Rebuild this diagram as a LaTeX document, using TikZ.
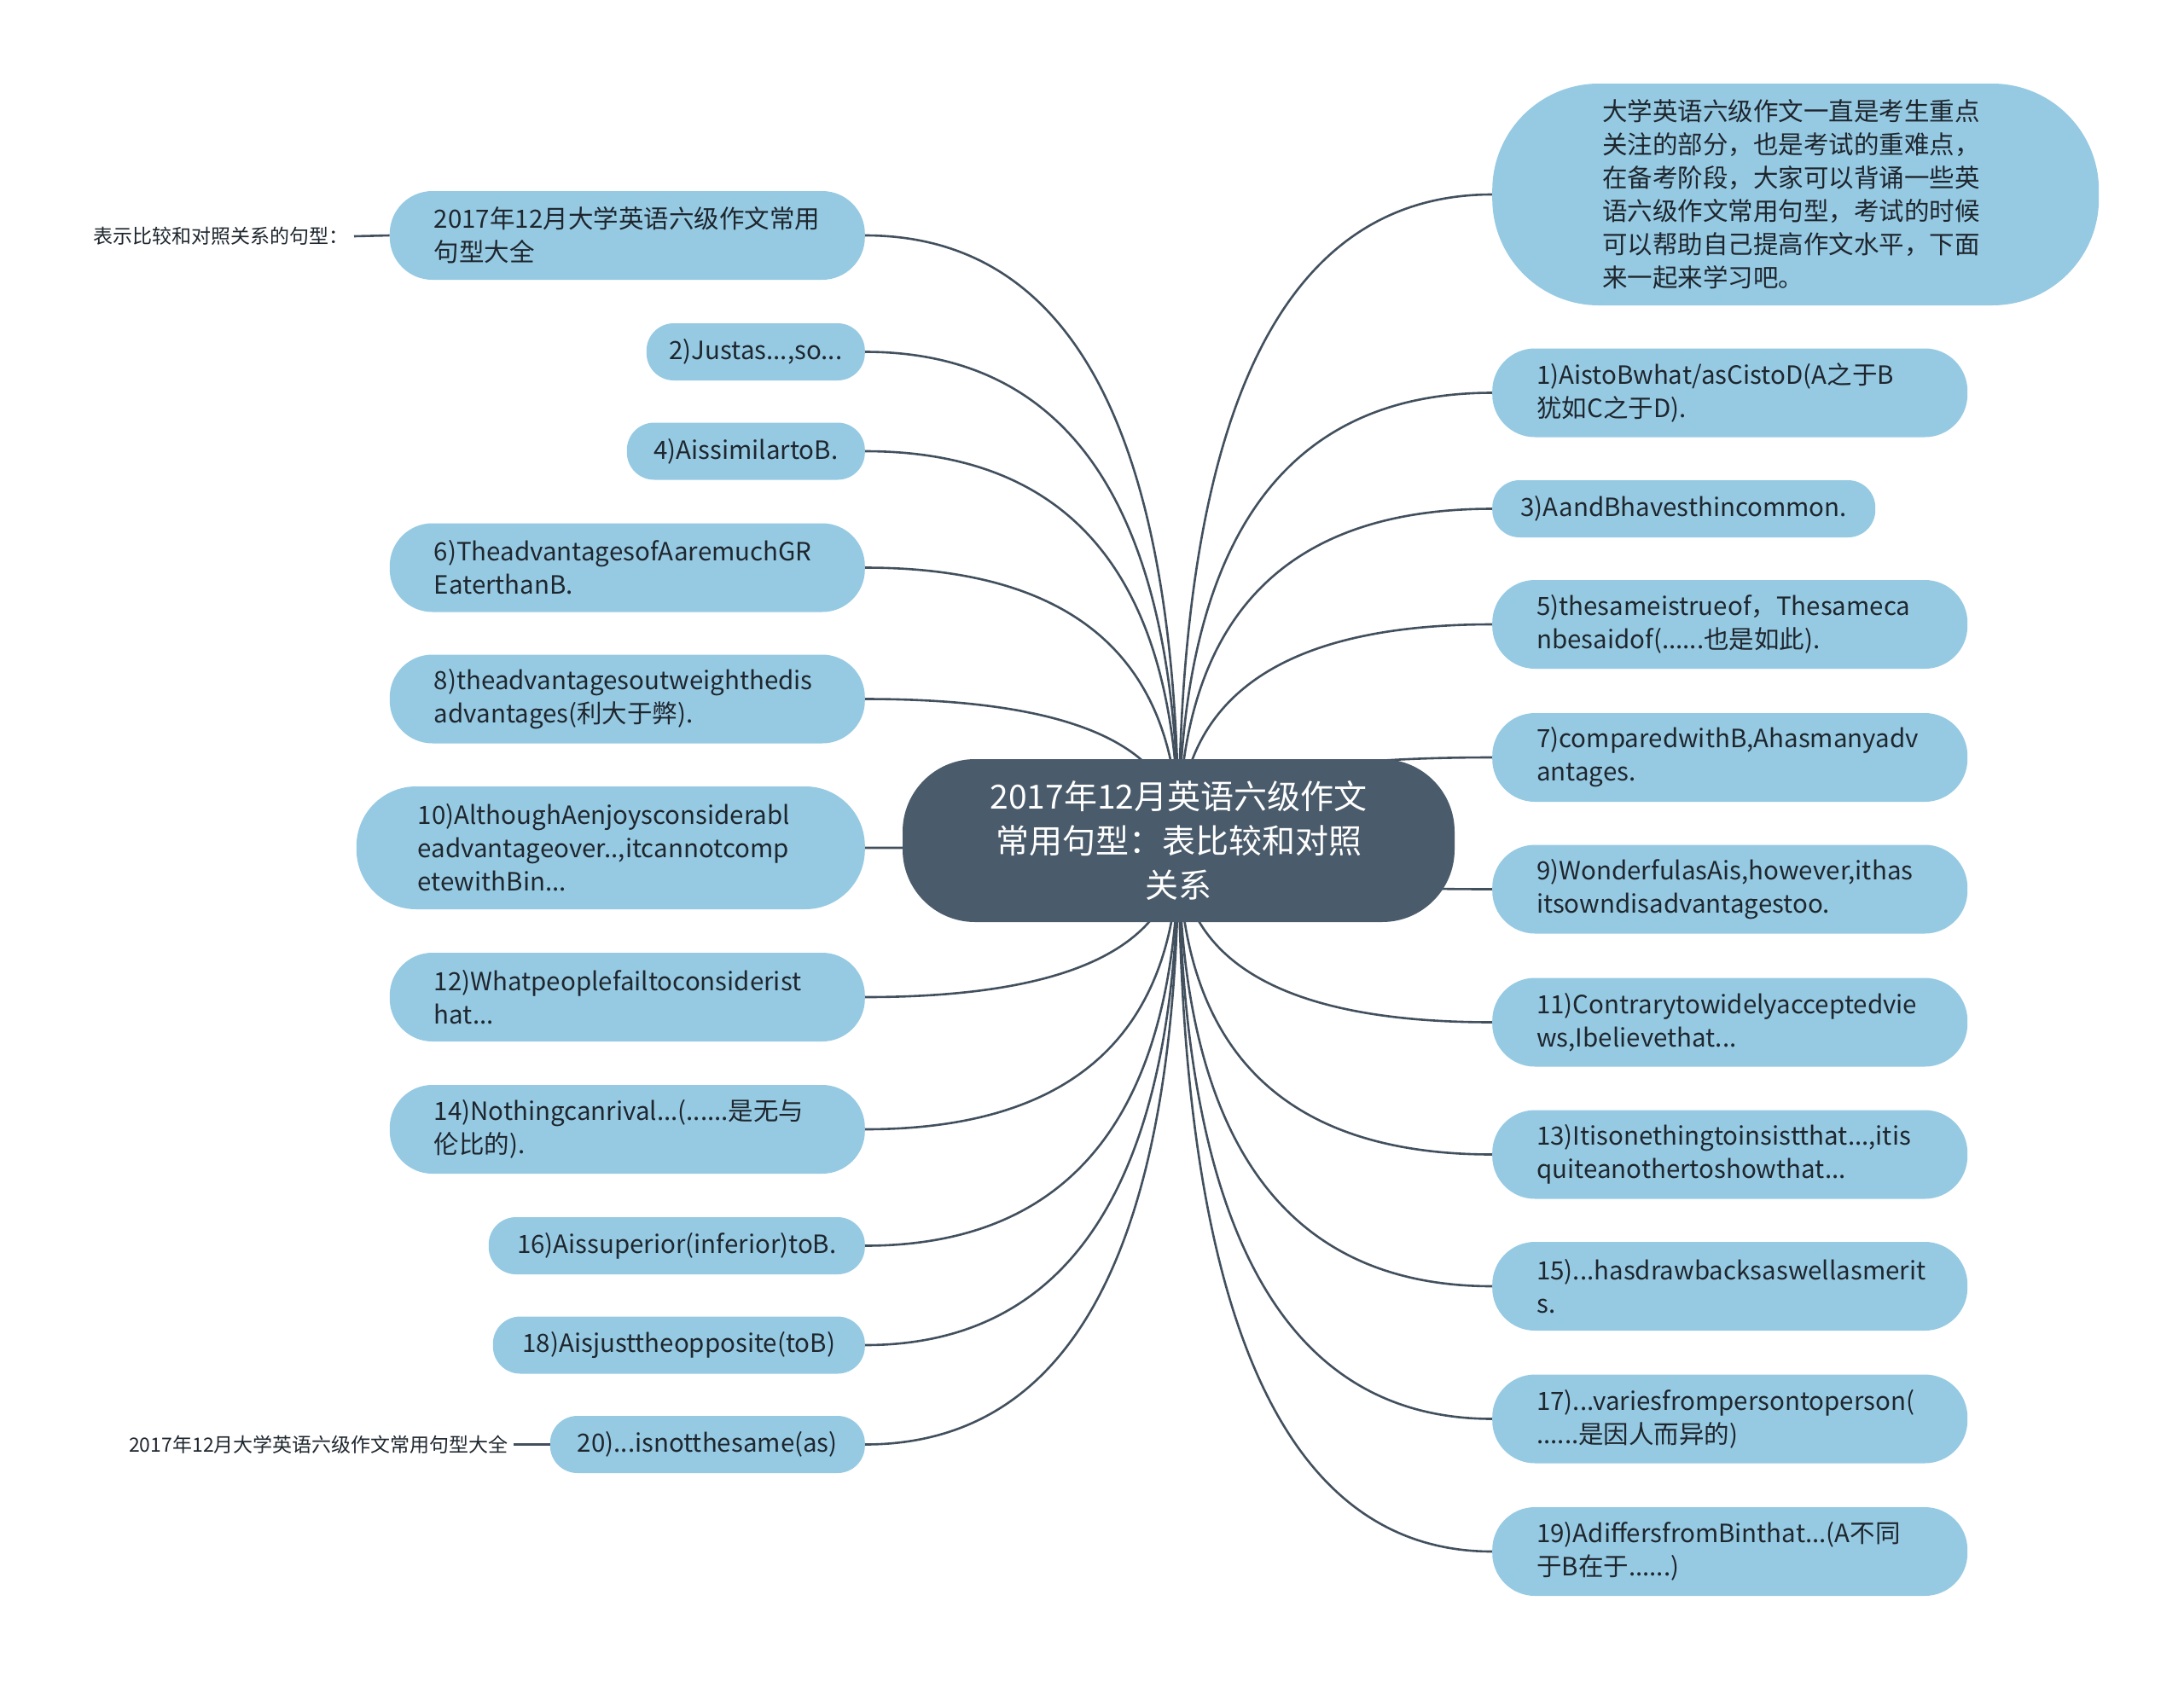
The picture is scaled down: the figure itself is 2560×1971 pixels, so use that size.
\documentclass[tikz,border=0pt]{standalone}
\usepackage{fontspec}
\setmainfont{Noto Sans CJK SC}
\usetikzlibrary{calc,backgrounds}
\definecolor{leafblue}{RGB}{150,202,227}
\definecolor{rootslate}{RGB}{74,91,107}
\definecolor{linkslate}{RGB}{66,80,94}
\definecolor{inkdark}{RGB}{30,38,46}

\tikzset{
  leaf/.style={fill=leafblue, text=inkdark, font=\fontsize{29.5}{39}\selectfont, align=left, inner ysep=4pt},
  leafone/.style={leaf, minimum height=67pt, rounded corners=32pt},
  leaftwo/.style={leaf, minimum height=104pt, text width=453pt, inner xsep=52pt, rounded corners=50pt},
  leafthree/.style={leaf, minimum height=144pt, text width=452pt, inner xsep=72pt, rounded corners=70pt},
  link/.style={draw=linkslate, line width=2.6pt},
  tag/.style={text=inkdark, font=\fontsize{23}{28}\selectfont, inner xsep=6pt}
}

\begin{document}
\begin{tikzpicture}[x=1pt,y=-1pt]
\useasboundingbox (0,0) rectangle (2560,1971);

% root
\node[fill=rootslate, text=white, font=\fontsize{39}{52}\selectfont, align=center,
  minimum width=647pt, minimum height=191pt, rounded corners=85pt] (ctr) at (1381.5,985.5)
  {2017年12月英语六级作文\\常用句型：表比较和对照\\关系};

% left side
\node[leaftwo, anchor=east] (l1) at (1014,276) {2017年12月大学英语六级作文常用\\句型大全};
\node[leafone, anchor=east, minimum width=256pt] (l2) at (1014,412.5) {2)Justas...,so...};
\node[leafone, anchor=east, minimum width=279pt] (l3) at (1014,529) {4)AissimilartoB.};
\node[leaftwo, anchor=east] (l4) at (1014,665.5) {6)TheadvantagesofAaremuchGR\\EaterthanB.};
\node[leaftwo, anchor=east] (l5) at (1014,819.5) {8)theadvantagesoutweighthedis\\advantages(利大于弊).};
\node[leafthree, anchor=east] (l6) at (1014,994) {10)AlthoughAenjoysconsiderabl\\eadvantageover..,itcannotcomp\\etewithBin...};
\node[leaftwo, anchor=east] (l7) at (1014,1169) {12)Whatpeoplefailtoconsiderist\\hat...};
\node[leaftwo, anchor=east] (l8) at (1014,1324) {14)Nothingcanrival...(......是无与\\伦比的).};
\node[leafone, anchor=east, minimum width=441pt] (l9) at (1014,1460.5) {16)Aissuperior(inferior)toB.};
\node[leafone, anchor=east, minimum width=436pt] (l10) at (1014,1577) {18)Aisjusttheopposite(toB)};
\node[leafone, anchor=east, minimum width=369pt] (l11) at (1014,1693.5) {20)...isnotthesame(as)};

\node[tag, anchor=east] (lab1) at (415,277) {表示比较和对照关系的句型：};
\node[tag, anchor=east] (lab2) at (602,1693.5) {2017年12月大学英语六级作文常用句型大全};

% right side
\node[leaf, anchor=west, minimum height=260pt, text width=453pt, inner xsep=129pt, rounded corners=125pt] (r1) at (1749,228)
  {大学英语六级作文一直是考生重点\\关注的部分，也是考试的重难点，\\在备考阶段，大家可以背诵一些英\\语六级作文常用句型，考试的时候\\可以帮助自己提高作文水平，下面\\来一起来学习吧。};
\node[leaftwo, anchor=west] (r2) at (1749,460.5) {1)AistoBwhat/asCistoD(A之于B\\犹如C之于D).};
\node[leafone, anchor=west, minimum width=449pt] (r3) at (1749,596.5) {3)AandBhavesthincommon.};
\node[leaftwo, anchor=west] (r4) at (1749,732) {5)thesameistrueof，Thesameca\\nbesaidof(......也是如此).};
\node[leaftwo, anchor=west] (r5) at (1749,888) {7)comparedwithB,Ahasmanyadv\\antages.};
\node[leaftwo, anchor=west] (r6) at (1749,1042.5) {9)WonderfulasAis,however,ithas\\itsowndisadvantagestoo.};
\node[leaftwo, anchor=west] (r7) at (1749,1198.5) {11)Contrarytowidelyacceptedvie\\ws,Ibelievethat...};
\node[leaftwo, anchor=west] (r8) at (1749,1353.5) {13)Itisonethingtoinsistthat...,itis\\quiteanothertoshowthat...};
\node[leaftwo, anchor=west] (r9) at (1749,1508) {15)...hasdrawbacksaswellasmerit\\s.};
\node[leaftwo, anchor=west] (r10) at (1749,1663.5) {17)...variesfrompersontoperson(\\......是因人而异的)};
\node[leaftwo, anchor=west] (r11) at (1749,1819) {19)AdiffersfromBinthat...(A不同\\于B在于......)};

% connectors
\begin{scope}[on background layer]
\foreach \n in {l1,l2,l3,l4,l5,l6,l7,l8,l9,l10,l11}
  \draw[link] (ctr.center) .. controls ($(ctr.center)!0.667!(ctr.center |- \n.east)$)
    and ($(\n.east)!0.667!(ctr.center |- \n.east)$) .. (\n.east);
\foreach \n in {r1,r2,r3,r4,r5,r6,r7,r8,r9,r10,r11}
  \draw[link] (ctr.center) .. controls ($(ctr.center)!0.667!(ctr.center |- \n.west)$)
    and ($(\n.west)!0.667!(ctr.center |- \n.west)$) .. (\n.west);
\end{scope}
\draw[link] (lab1.east) -- (l1.west);
\draw[link] (lab2.east) -- (l11.west);
\end{tikzpicture}
\end{document}
